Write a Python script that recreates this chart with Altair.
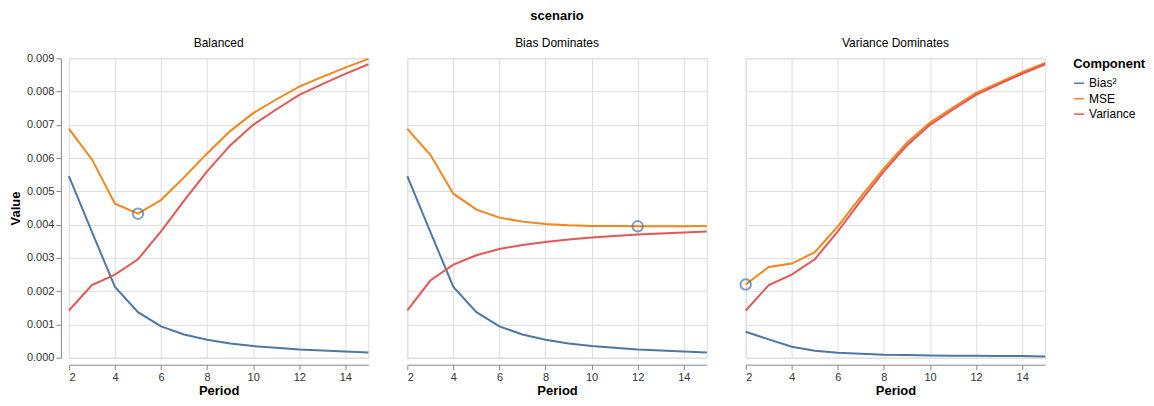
import altair as alt
import pandas as pd

periods = list(range(2, 16))
scenarios = ["Balanced", "Bias Dominates", "Variance Dominates"]
components = ["Bias²", "MSE", "Variance"]

# Balanced
bal_bias = [0.00546, 0.00378, 0.00213, 0.00137, 0.00094, 0.00070, 0.00054, 0.00043, 0.00035, 0.00030, 0.00025, 0.00022, 0.00019, 0.00016]
bal_var = [0.00142, 0.00218, 0.00250, 0.00296, 0.00380, 0.00472, 0.00560, 0.00638, 0.00700, 0.00746, 0.00790, 0.00822, 0.00853, 0.00882]
bal_mse = [0.00688, 0.00596, 0.00463, 0.00433, 0.00474, 0.00542, 0.00614, 0.00681, 0.00735, 0.00776, 0.00815, 0.00844, 0.00872, 0.00898]

# Bias Dominates
bd_bias = [0.00546, 0.00378, 0.00213, 0.00137, 0.00094, 0.00070, 0.00054, 0.00043, 0.00035, 0.00030, 0.00025, 0.00022, 0.00019, 0.00016]
bd_var = [0.00142, 0.00232, 0.00280, 0.00308, 0.00327, 0.00339, 0.00348, 0.00355, 0.00361, 0.00366, 0.00370, 0.00373, 0.00376, 0.00379]
bd_mse = [0.00688, 0.00610, 0.00493, 0.00445, 0.00421, 0.00409, 0.00402, 0.00398, 0.00396, 0.00396, 0.00395, 0.003952, 0.003954, 0.003956]

# Variance Dominates
vd_bias = [0.00078, 0.00055, 0.00033, 0.00021, 0.00015, 0.00012, 0.00009, 0.00008, 0.00007, 0.00006, 0.00006, 0.00005, 0.00005, 0.00004]
vd_var = [0.00142, 0.00218, 0.00250, 0.00296, 0.00380, 0.00472, 0.00560, 0.00638, 0.00700, 0.00746, 0.00790, 0.00822, 0.00853, 0.00882]
vd_mse = [0.00220, 0.00273, 0.00283, 0.00317, 0.00395, 0.00484, 0.00569, 0.00646, 0.00707, 0.00752, 0.00796, 0.00827, 0.00858, 0.00886]

series = {
    ("Balanced", "Bias²"): bal_bias,
    ("Balanced", "MSE"): bal_mse,
    ("Balanced", "Variance"): bal_var,
    ("Bias Dominates", "Bias²"): bd_bias,
    ("Bias Dominates", "MSE"): bd_mse,
    ("Bias Dominates", "Variance"): bd_var,
    ("Variance Dominates", "Bias²"): vd_bias,
    ("Variance Dominates", "MSE"): vd_mse,
    ("Variance Dominates", "Variance"): vd_var,
}

rows = []
for (sc, comp), vals in series.items():
    for p, v in zip(periods, vals):
        rows.append({"scenario": sc, "Component": comp, "Period": p, "Value": v})
df = pd.DataFrame(rows)

base = alt.Chart(df)

x_enc = alt.X("Period:Q", title="Period",
              scale=alt.Scale(domain=[2, 15], nice=False, zero=False),
              axis=alt.Axis(offset=3, titlePadding=2))
y_enc = alt.Y("Value:Q", title="Value",
              scale=alt.Scale(domain=[0, 0.009]),
              axis=alt.Axis(format=".3f", offset=3, tickCount=9, titlePadding=4))

lines = base.mark_line(strokeWidth=2).encode(
    x=x_enc,
    y=y_enc,
    color=alt.Color("Component:N", title="Component",
                    scale=alt.Scale(domain=components, range=["#4c78a8", "#f58518", "#e45756"]),
                    legend=alt.Legend(offset=23, rowPadding=3.5, titlePadding=6)),
)

points = base.transform_filter(
    alt.datum.Component == "MSE"
).transform_joinaggregate(
    minv="min(Value)", groupby=["scenario"]
).transform_filter(
    "datum.Value == datum.minv"
).mark_point(size=110, strokeWidth=2, color="#4c78a8", opacity=0.7, filled=False).encode(
    x=x_enc,
    y=y_enc,
)

chart = alt.layer(lines, points).properties(width=300, height=300).facet(
    column=alt.Column("scenario:N", title="scenario", sort=scenarios,
                      header=alt.Header(labelFontSize=12, titleFontSize=13,
                                        titlePadding=4, labelPadding=4))
).properties(
    spacing=24,
    padding={"left": 1, "top": 2, "right": 0, "bottom": 0},
).configure(
    font="Liberation Sans"
).configure_axis(
    labelFontSize=11, titleFontSize=13, labelColor="#333", titleColor="#000"
).configure_legend(
    titleFontSize=13, labelFontSize=12
)

chart.save("out.html", embed_options={"renderer": "svg", "actions": False})
